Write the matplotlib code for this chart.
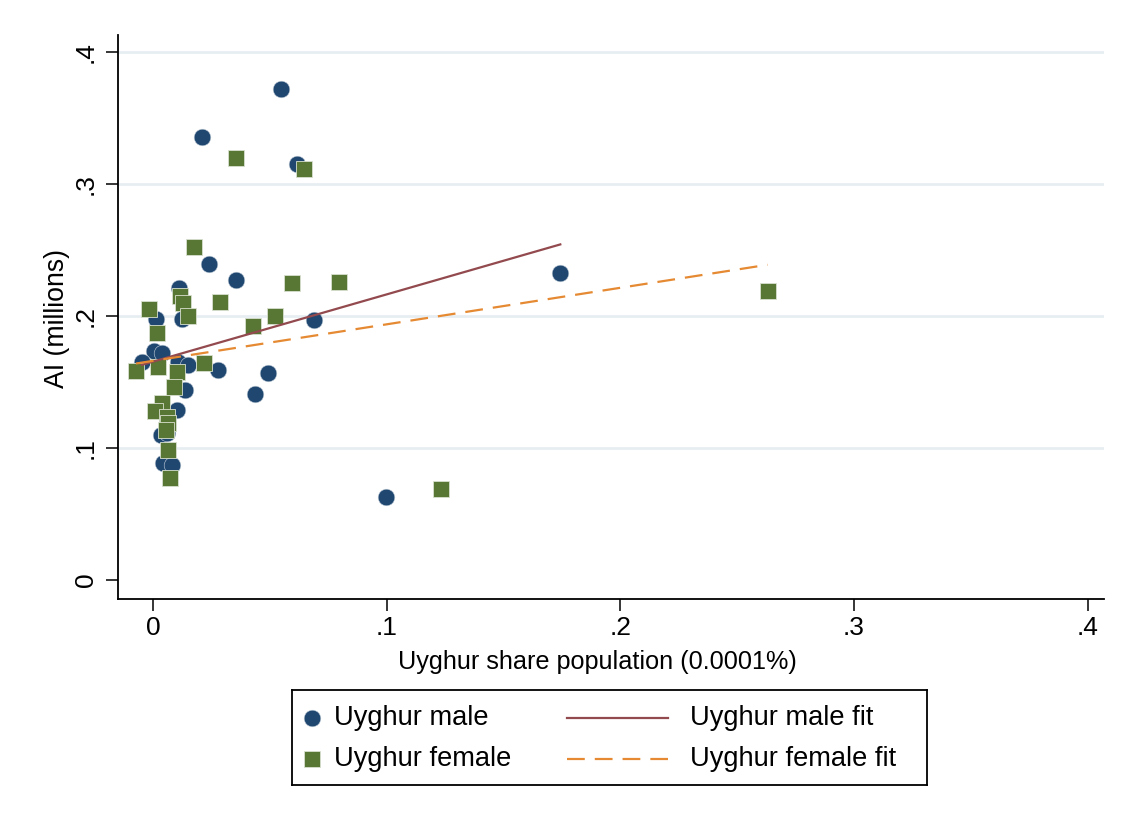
import matplotlib
matplotlib.use("Agg")
import matplotlib.pyplot as plt
import numpy as np

plt.rcParams['font.family'] = ['Liberation Sans', 'DejaVu Sans']

# ---- data ----
male_x = [0.0547, 0.0208, 0.0618, 0.0241, 0.0355, 0.0111, 0.0014, 0.0124, 0.069, 0.1743,
          0.0006, 0.0037, -0.0048, 0.0108, 0.0151, 0.028, 0.049, 0.0437, 0.0137, 0.0101,
          0.0035, 0.0058, 0.0044, 0.008, 0.0997]
male_y = [0.372, 0.336, 0.315, 0.239, 0.227, 0.221, 0.198, 0.198, 0.197, 0.2324,
          0.173, 0.1717, 0.1653, 0.165, 0.1628, 0.159, 0.157, 0.141, 0.1438, 0.1287,
          0.110, 0.111, 0.0882, 0.087, 0.063]

female_x = [0.0355, 0.0648, 0.0177, 0.0595, 0.0795, 0.0287, -0.0016, 0.0116, 0.013, 0.0149,
            0.0522, 0.0428, 0.0017, -0.0073, 0.0023, 0.022, 0.0101, 0.0091, 0.004, 0.0009,
            0.0059, 0.0066, 0.0054, 0.0066, 0.0073, 0.263, 0.1232]
female_y = [0.320, 0.3115, 0.2524, 0.2248, 0.2256, 0.2104, 0.2055, 0.215, 0.2096, 0.200,
            0.200, 0.1924, 0.187, 0.1585, 0.1616, 0.164, 0.1578, 0.1464, 0.1338, 0.128,
            0.1236, 0.1186, 0.1135, 0.0983, 0.0769, 0.219, 0.0685]

# linear fit lines (intercept, slope)
male_fit = [0.1653, 0.51]
female_fit = [0.1659, 0.277]

x_ticks = [0, 0.1, 0.2, 0.3, 0.4]
x_ticklabels = ['0', '.1', '.2', '.3', '.4']
y_ticks = [0, 0.1, 0.2, 0.3, 0.4]
y_ticklabels = ['0', '.1', '.2', '.3', '.4']

labels = ['Uyghur male', 'Uyghur female', 'Uyghur male fit', 'Uyghur female fit']

# ---- style ----
c_male = '#1f4770'
c_female = '#587634'
c_mfit = '#934a4e'
c_ffit = '#e58a33'
grid_c = '#e7eef2'

W, H = 1124, 818
fig = plt.figure(figsize=(W / 100, H / 100), dpi=100)
fig.patch.set_facecolor('white')

L, R, T, B = 118, 1104, 35, 599
ax = fig.add_axes([L / W, 1 - B / H, (R - L) / W, (B - T) / H])
ax.set_xlim(-0.015, 0.407)
ax.set_ylim(-0.0147, 0.413)

for yv in y_ticks[1:]:
    ax.axhline(yv, color=grid_c, lw=2, zorder=0)

ms = 12
ax.plot(male_x, male_y, 'o', color=c_male, ms=ms, mec='#c9d3dd', mew=0.4, zorder=3)
ax.plot(female_x, female_y, 's', color=c_female, ms=ms, mec='#d8e0cf', mew=0.6, zorder=3)

mx = np.array([min(male_x), max(male_x)])
fx = np.array([min(female_x), max(female_x)])
ax.plot(mx, male_fit[0] + male_fit[1] * mx, '-', color=c_mfit, lw=1.6, zorder=4)
ax.plot(fx, female_fit[0] + female_fit[1] * fx, color=c_ffit, lw=1.6,
        linestyle=(0, (8, 4.5)), zorder=4)

for s in ['top', 'right']:
    ax.spines[s].set_visible(False)
for s in ['left', 'bottom']:
    ax.spines[s].set_linewidth(1.3)
    ax.spines[s].set_color('black')

ax.set_xticks(x_ticks)
ax.set_xticklabels(x_ticklabels)
ax.set_yticks(y_ticks)
ax.set_yticklabels(y_ticklabels, rotation=90, va='center')
ax.tick_params(axis='both', direction='out', length=8.5, width=1.1, labelsize=19)
ax.tick_params(axis='x', pad=4)
ax.tick_params(axis='y', pad=6)

ax.set_xlabel('Uyghur share population (0.0001%)', fontsize=18.2, va='baseline')
ax.set_ylabel('AI (millions)', fontsize=19.2, va='center')
ax.xaxis.set_label_coords((597 - L) / (R - L), (B - 669) / (B - T))
ax.yaxis.set_label_coords((57 - L) / (R - L), (B - 318) / (B - T))

# ---- legend (drawn in its own box) ----
lx0, lx1, ly0, ly1 = 292, 927, 690, 785
lax = fig.add_axes([lx0 / W, 1 - ly1 / H, (lx1 - lx0) / W, (ly1 - ly0) / H])
lax.set_xlim(0, lx1 - lx0)
lax.set_ylim(ly1 - ly0, 0)
lax.set_xticks([])
lax.set_yticks([])
for s in lax.spines.values():
    s.set_linewidth(1.3)
    s.set_color('black')

r1, r2 = 28, 69
fs_leg = 19.6
lax.plot([20], [r1], 'o', color=c_male, ms=ms, mec='#c9d3dd', mew=0.4)
lax.plot([20], [r2], 's', color=c_female, ms=ms, mec='#d8e0cf', mew=0.6)
lax.plot([275, 376], [r1, r1], '-', color=c_mfit, lw=1.6)
lax.plot([275, 376], [r2, r2], color=c_ffit, lw=1.6, linestyle=(0, (8, 4.5)))
lax.text(42, r1, labels[0], fontsize=fs_leg, va='center', ha='left')
lax.text(42, r2, labels[1], fontsize=fs_leg, va='center', ha='left')
lax.text(398, r1, labels[2], fontsize=fs_leg, va='center', ha='left')
lax.text(398, r2, labels[3], fontsize=fs_leg, va='center', ha='left')

fig.savefig('out.png', dpi=100, facecolor='white')
